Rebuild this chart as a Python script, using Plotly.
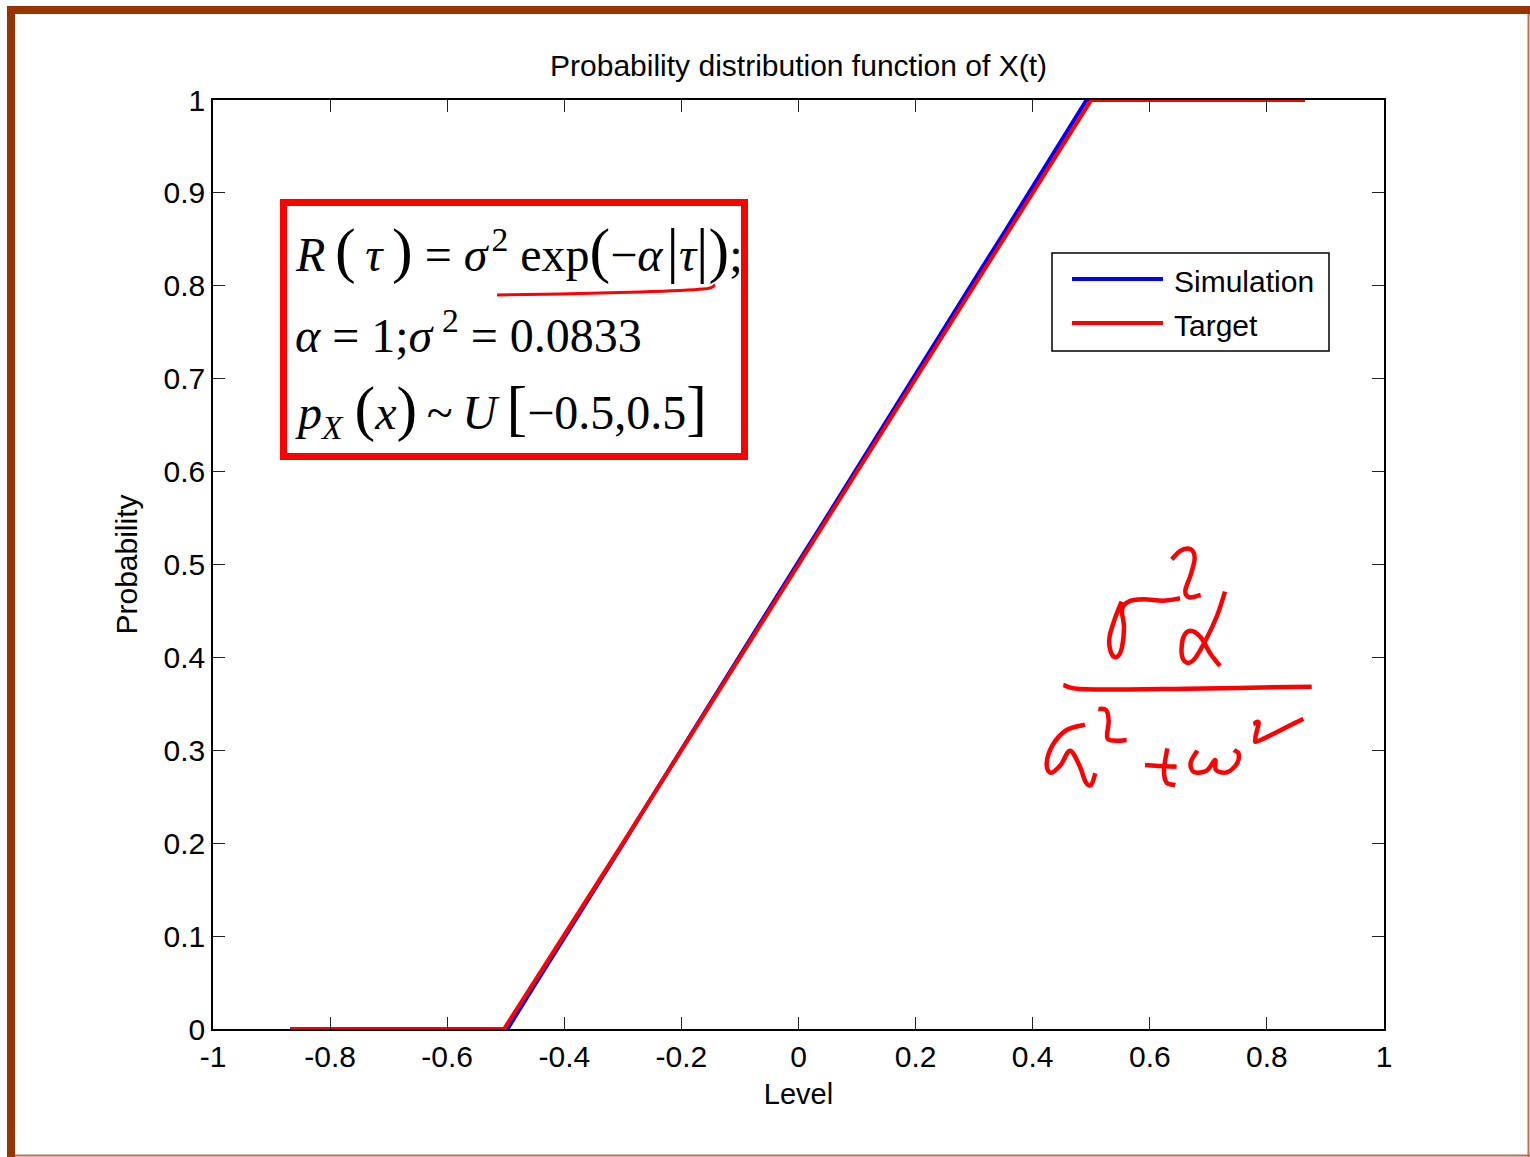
import plotly.graph_objects as go

# ---------------- data ----------------
sim_x = [-0.868, -0.497, -0.45, -0.40, -0.35, -0.30, -0.25, -0.20, -0.15, -0.10, -0.05,
         0.00, 0.05, 0.10, 0.15, 0.20, 0.25, 0.30, 0.35, 0.40, 0.45, 0.492, 0.865]
sim_y = [0.0, 0.0, 0.048, 0.098, 0.149, 0.199, 0.250, 0.301, 0.351, 0.402, 0.452,
         0.503, 0.553, 0.604, 0.654, 0.705, 0.755, 0.806, 0.856, 0.907, 0.957, 1.0, 1.0]
tgt_x = [-0.868, -0.503, -0.45, -0.40, -0.35, -0.30, -0.25, -0.20, -0.15, -0.10, -0.05,
         0.00, 0.05, 0.10, 0.15, 0.20, 0.25, 0.30, 0.35, 0.40, 0.45, 0.50, 0.865]
tgt_y = [0.0, 0.0, 0.052, 0.101, 0.151, 0.200, 0.250, 0.300, 0.350, 0.400, 0.450,
         0.500, 0.550, 0.600, 0.650, 0.700, 0.750, 0.800, 0.850, 0.900, 0.950, 1.0, 1.0]
x_ticks = [-1, -0.8, -0.6, -0.4, -0.2, 0, 0.2, 0.4, 0.6, 0.8, 1]
x_labels = ["-1", "-0.8", "-0.6", "-0.4", "-0.2", "0", "0.2", "0.4", "0.6", "0.8", "1"]
y_ticks = [0, 0.1, 0.2, 0.3, 0.4, 0.5, 0.6, 0.7, 0.8, 0.9, 1]
y_labels = ["0", "0.1", "0.2", "0.3", "0.4", "0.5", "0.6", "0.7", "0.8", "0.9", "1"]
series_names = ["Simulation", "Target"]
series_colors = ["#0000FF", "#FF0000"]

# ---------------- layout geometry ----------------
W, H = 1530, 1157
L, R, T, B = 213, 1384, 100, 1029
SANS = "Liberation Sans, Arial, Helvetica, sans-serif"
SERIF = "Liberation Serif, Times New Roman, serif"


def pxp(px):
    return (px - L) / (R - L)


def pyp(py):
    return (B - py) / (B - T)


def pxd(px):
    return -1 + 2 * (px - L) / (R - L)


def pyd(py):
    return (B - py) / (B - T)


def stroke_path(pts, ox=0, oy=0, s=1.0):
    """Smooth path (Catmull-Rom -> Bezier) through pixel points, in data coords."""
    P = [(ox + x * s, oy + y * s) for x, y in pts]
    P = [(pxd(x), pyd(y)) for x, y in P]
    d = "M %.5f,%.5f" % P[0]
    for i in range(len(P) - 1):
        p0 = P[i - 1] if i > 0 else P[i]
        p1 = P[i]
        p2 = P[i + 1]
        p3 = P[i + 2] if i + 2 < len(P) else P[i + 1]
        c1 = (p1[0] + (p2[0] - p0[0]) / 6, p1[1] + (p2[1] - p0[1]) / 6)
        c2 = (p2[0] - (p3[0] - p1[0]) / 6, p2[1] - (p3[1] - p1[1]) / 6)
        d += " C %.5f,%.5f %.5f,%.5f %.5f,%.5f" % (c1[0], c1[1], c2[0], c2[1], p2[0], p2[1])
    return d


fig = go.Figure()
fig.add_trace(go.Scatter(x=sim_x, y=sim_y, mode="lines", name=series_names[0],
                         line=dict(color=series_colors[0], width=4), showlegend=False))
fig.add_trace(go.Scatter(x=tgt_x, y=tgt_y, mode="lines", name=series_names[1],
                         line=dict(color=series_colors[1], width=4), showlegend=False))

shapes = []
annotations = []

# page frame
BROWN = "#993300"
shapes.append(dict(type="rect", xref="paper", yref="paper", x0=pxp(7), x1=pxp(1530),
                   y0=pyp(14), y1=pyp(6), fillcolor=BROWN, line=dict(width=0), layer="above"))
shapes.append(dict(type="rect", xref="paper", yref="paper", x0=pxp(7), x1=pxp(15),
                   y0=pyp(1157), y1=pyp(6), fillcolor=BROWN, line=dict(width=0), layer="above"))
shapes.append(dict(type="line", xref="paper", yref="paper", x0=pxp(1528.5), x1=pxp(1528.5),
                   y0=pyp(14), y1=pyp(1157), line=dict(color="#b8704e", width=2), layer="above"))
shapes.append(dict(type="line", xref="paper", yref="paper", x0=pxp(15), x1=pxp(1530),
                   y0=pyp(1155.5), y1=pyp(1155.5), line=dict(color="#b8704e", width=2), layer="above"))

# legend (drawn manually to match the long line samples)
shapes.append(dict(type="rect", xref="paper", yref="paper", x0=pxp(1052), x1=pxp(1329),
                   y0=pyp(351), y1=pyp(253), fillcolor="white",
                   line=dict(color="black", width=1.5), layer="above"))
for i, (nm, col) in enumerate(zip(series_names, series_colors)):
    yy = 279 + 44 * i
    shapes.append(dict(type="line", xref="paper", yref="paper", x0=pxp(1072), x1=pxp(1163),
                       y0=pyp(yy), y1=pyp(yy), line=dict(color=col, width=4), layer="above"))
    annotations.append(dict(xref="paper", yref="paper", x=pxp(1172), y=pyp(yy + 2), text=nm,
                            showarrow=False, xanchor="left", yanchor="middle",
                            font=dict(family=SANS, size=30, color="black")))

# formula box
shapes.append(dict(type="rect", xref="paper", yref="paper", x0=pxp(283.5), x1=pxp(744.5),
                   y0=pyp(456.5), y1=pyp(202.5), fillcolor="white",
                   line=dict(color="#FF0000", width=7), layer="above"))
BIG = '<span style="font-size:62px">%s</span>'
TS = "\u2009"  # thin space
HS = "\u200a"  # hair space
line1 = ("<i>R</i>" + TS + BIG % "(" + TS + "<i>τ</i>" + TS + BIG % ")" + " = <i>σ</i>" + HS
         + "<sup>2</sup> exp" + BIG % "(" + "−<i>α</i>" + HS + BIG % "|" + "<i>τ</i>"
         + BIG % "|" + BIG % ")" + ";")
line2 = "<i>α</i> = 1;<i>σ</i>" + TS + "<sup>2</sup> = 0.0833"
line3 = ("<i>p</i><sub><i>X</i></sub> " + BIG % "(" + "<i>x</i>" + BIG % ")" + TS + "~" + TS
         + "<i>U</i>" + TS + BIG % "[" + "−0.5,0.5" + BIG % "]")
for txt, yc in [(line1, 250), (line2, 332), (line3, 410)]:
    annotations.append(dict(xref="paper", yref="paper", x=pxp(293), y=pyp(yc), text=txt,
                            showarrow=False, xanchor="left", yanchor="middle",
                            font=dict(family=SERIF, size=48, color="black")))

# handwritten red ink
INK = "#FF0000"
underline = [(497, 295), (560, 294), (640, 292), (703, 289), (715, 285)]
shapes.append(dict(type="path", xref="x", yref="y", path=stroke_path(underline),
                   line=dict(color=INK, width=3), layer="above"))
ox, oy, s = 1020, 530, 1 / 3
hand = [
    # sigma
    [(305, 215), (285, 265), (268, 325), (275, 372), (292, 380), (306, 352), (312, 290),
     (306, 240), (325, 215), (370, 208), (430, 212), (480, 205)],
    # superscript 2 (numerator), looped
    [(455, 88), (482, 62), (512, 58), (524, 85), (512, 135), (496, 182), (508, 202), (542, 195)],
    # alpha (numerator)
    [(615, 185), (592, 255), (560, 325), (525, 385), (500, 398), (485, 372), (490, 322),
     (512, 302), (542, 322), (572, 372), (600, 408)],
    # fraction bar
    [(130, 465), (200, 478), (500, 476), (875, 470)],
    # alpha (denominator)
    [(195, 584), (140, 600), (98, 645), (80, 700), (92, 728), (122, 705), (150, 662),
     (178, 706), (198, 758), (214, 764), (226, 730)],
    # superscript 2 (denominator)
    [(235, 537), (258, 540), (266, 572), (262, 624), (288, 632), (320, 630)],
    # plus (written like t)
    [(375, 705), (420, 708), (470, 710)],
    [(442, 655), (432, 720), (440, 758), (466, 765)],
    # omega
    [(532, 662), (512, 698), (522, 726), (560, 722), (585, 690), (588, 720), (620, 727),
     (650, 702), (656, 672), (642, 660)],
    # superscript 2 after omega
    [(700, 582), (716, 578), (706, 626), (722, 630), (850, 566)],
]
for st in hand:
    shapes.append(dict(type="path", xref="x", yref="y", path=stroke_path(st, ox, oy, s),
                       line=dict(color=INK, width=4.5), layer="above"))

axis_common = dict(showgrid=False, zeroline=False, showline=True, linecolor="black",
                   linewidth=1.5, mirror="allticks", ticks="inside", ticklen=12,
                   tickcolor="#222222", tickwidth=1.2,
                   tickfont=dict(family=SANS, size=30, color="black"))

fig.update_layout(
    width=W, height=H, autosize=False,
    margin=dict(l=L, r=W - R, t=T, b=H - B, pad=0),
    paper_bgcolor="white", plot_bgcolor="white",
    title=dict(text="Probability distribution function of X(t)", x=0.5, xref="paper",
               y=1 - 65 / H, yref="container", yanchor="middle", xanchor="center",
               font=dict(family=SANS, size=30, color="black")),
    xaxis=dict(range=[-1, 1], tickvals=x_ticks, ticktext=x_labels,
               title=dict(text="Level", standoff=12, font=dict(family=SANS, size=29, color="black")),
               **axis_common),
    yaxis=dict(range=[0, 1], tickvals=y_ticks, ticktext=y_labels,
               title=dict(text="Probability", standoff=17, font=dict(family=SANS, size=30, color="black")),
               **axis_common),
    shapes=shapes,
    annotations=annotations,
    showlegend=False,
)

fig.write_html("out.html")
